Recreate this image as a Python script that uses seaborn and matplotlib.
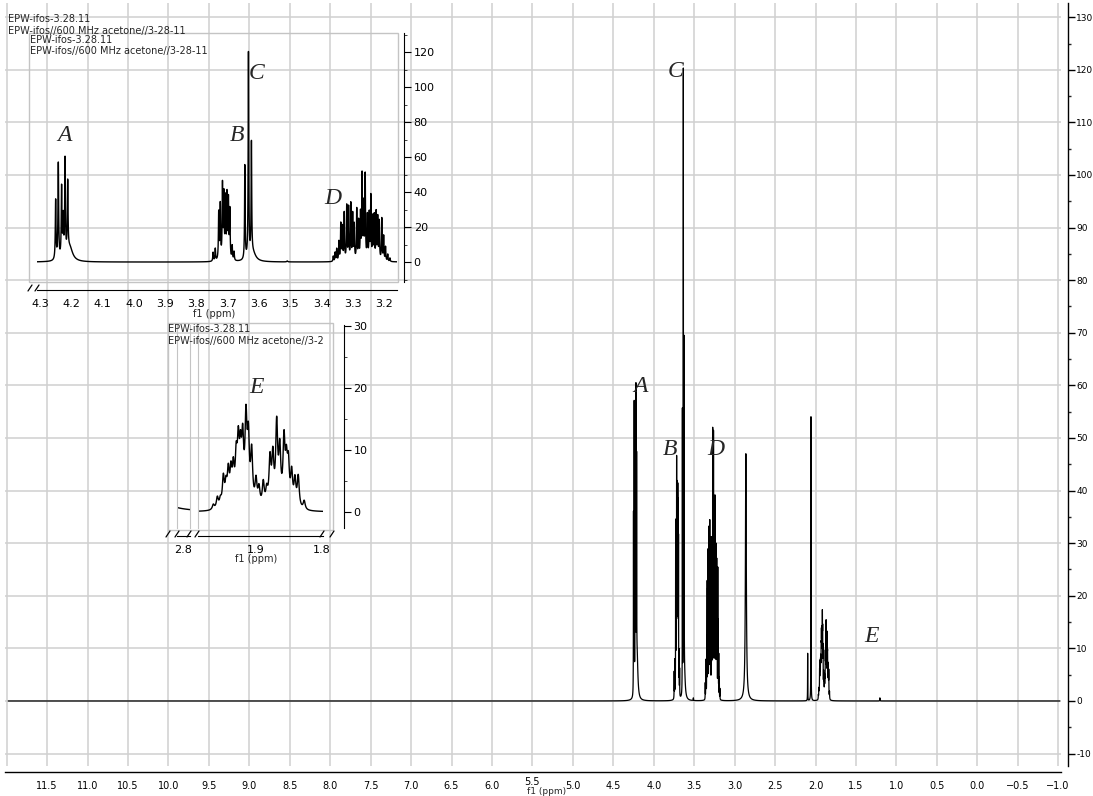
import numpy as np
import matplotlib
matplotlib.use("Agg")
import matplotlib.pyplot as plt
import seaborn as sns
from matplotlib.ticker import MultipleLocator, FixedLocator, FuncFormatter
from matplotlib.patches import Rectangle
from matplotlib.lines import Line2D
from matplotlib.transforms import ScaledTranslation

# ---------------- data (peak lists) ----------------
A_ppm = [4.2500, 4.2415, 4.2310, 4.2260, 4.2200, 4.2115]
A_h = [34, 55, 40, 22, 55, 40]
B_ppm = [3.7470, 3.7400, 3.7290, 3.7240, 3.7170, 3.7125, 3.7075, 3.7025, 3.6980, 3.6935, 3.6860, 3.6800]
B_h = [5, 7, 27, 31, 42, 36, 34, 36, 33, 28, 8, 5]
C_ppm = [3.6455, 3.6340, 3.6245]
C_h = [54, 117, 64]
D_ppm = [3.363, 3.357, 3.352, 3.345, 3.339, 3.334, 3.328, 3.320, 3.314, 3.307, 3.301,
         3.296, 3.288, 3.282, 3.276, 3.271, 3.266, 3.261, 3.254, 3.248, 3.243, 3.237,
         3.232, 3.226, 3.221, 3.216, 3.208, 3.202, 3.196, 3.189, 3.182]
D_h = [3, 5, 7, 11, 21, 19, 27, 31, 30, 32, 26, 20, 29, 22, 26, 48, 31, 48, 25, 26, 36, 24,
       25, 27, 24, 22, 24, 14, 8, 4, 2]
W_ppm = [2.861]
W_h = [47]
S_ppm = [2.097, 2.056]
S_h = [9, 54]
E_ppm = [1.9647, 1.9586, 1.9540, 1.9495, 1.9455, 1.9420, 1.9380, 1.9344, 1.9300, 1.9268,
         1.9235, 1.9202, 1.9152, 1.9116, 1.9066, 1.9000, 1.8955, 1.8890, 1.8838, 1.8788,
         1.8745, 1.8687, 1.8640, 1.8576, 1.8540, 1.8510, 1.8460, 1.8410, 1.8360, 1.8270]
E_h = [0.8, 1.8, 1.2, 4.7, 3.1, 5.2, 5.0, 5.4, 6.8, 8.8, 7.3, 9.4, 13.0, 9.9, 8.3, 4.0, 2.8,
       3.8, 2.4, 7.3, 7.6, 12.8, 8.6, 10.2, 6.2, 6.2, 5.2, 4.2, 5.0, 1.4]
M_ppm = [3.51, 1.204]
M_h = [0.5, 0.6]
BASE_ppm = [4.205, 3.620]
BASE_h = [8, 5]

# line half-widths (ppm) of each group
groups = [(A_ppm, A_h, 0.0013), (B_ppm, B_h, 0.0012), (C_ppm, C_h, 0.0011),
          (D_ppm, D_h, 0.0011), (W_ppm, W_h, 0.0065), (S_ppm, S_h, 0.0012),
          (E_ppm, E_h, 0.0018), (M_ppm, M_h, 0.002), (BASE_ppm, BASE_h, 0.011)]

main_xticks = np.arange(-1.0, 12.01, 0.5)
main_yticks = np.arange(-10, 131, 10)
ins1_xticks = [4.3, 4.2, 4.1, 4.0, 3.9, 3.8, 3.7, 3.6, 3.5, 3.4, 3.3, 3.2]
ins1_yticks = [0, 20, 40, 60, 80, 100, 120]
ins2_yticks = [0, 10, 20, 30]

title1 = "EPW-ifos-3.28.11"
title2 = "EPW-ifos//600 MHz acetone//3-28-11"
title2_cut = "EPW-ifos//600 MHz acetone//3-2"

# ---------------- spectrum ----------------
P = np.concatenate([np.array(g[0], float) for g in groups])
Hh = np.concatenate([np.array(g[1], float) for g in groups])
G = np.concatenate([np.full(len(g[0]), g[2]) for g in groups])

xs = np.arange(-1.02, 11.98, 0.0002)
ys = np.zeros_like(xs)
for i in range(0, len(xs), 5000):
    xx = xs[i:i + 5000, None]
    ys[i:i + 5000] = (Hh * G * G / (G * G + (xx - P) ** 2)).sum(axis=1)

# ---------------- figure ----------------
sns.set_style("white")
plt.rcParams["font.family"] = ["DejaVu Sans"]
plt.rcParams["axes.unicode_minus"] = True
plt.rcParams["path.simplify"] = False
plt.rcParams["agg.path.chunksize"] = 20000

W, H = 1093, 796
fig = plt.figure(figsize=(W / 100, H / 100), dpi=100)


def box(l, t, r, b):
    return [l / W, 1 - b / H, (r - l) / W, (b - t) / H]


def fx(px):
    return px / W


def fy(py):
    return 1 - py / H


GRID = "#d0d0d0"
FRAME = "#c4c4c4"
LBL = dict(family=["Liberation Serif", "DejaVu Serif"], style="italic", fontsize=17,
           ha="center", va="center")

# ---- main axes
ax = fig.add_axes(box(5, 3, 1061, 766))
ax.set_facecolor("white")
sns.lineplot(x=xs, y=ys, ax=ax, color="black", lw=0.9, estimator=None, sort=False, zorder=3)
ax.set_xlim(12.02, -1.035)
ax.set_ylim(-12.36, 132.7)
ax.set_xticks(main_xticks)
ax.xaxis.set_major_formatter(FuncFormatter(
    lambda v, _: "" if v > 11.9 else f"{v:.1f}".replace("-", "\u2212")))
ax.xaxis.set_minor_locator(FixedLocator(np.arange(-0.75, 11.9, 0.5)))
ax.set_yticks(main_yticks)
ax.yaxis.set_major_formatter(FuncFormatter(lambda v, _: f"{int(round(v))}"))
ax.yaxis.set_minor_locator(FixedLocator(np.arange(-5, 131, 10)))
ax.yaxis.tick_right()
ax.grid(True, which="major", color=GRID, lw=1.1, zorder=0)
for s in ["left", "top"]:
    ax.spines[s].set_visible(False)
ax.spines["right"].set_position(("outward", 5))
ax.spines["bottom"].set_position(("outward", 4))
for s in ["right", "bottom"]:
    ax.spines[s].set_color("black")
    ax.spines[s].set_linewidth(1.0)
ax.tick_params(axis="x", which="major", direction="out", length=5, width=1, labelsize=7, pad=2, colors="black")
ax.tick_params(axis="x", which="minor", direction="out", length=2.5, width=1, colors="black")
ax.tick_params(axis="y", which="major", direction="out", length=5, width=1, labelsize=6.5, pad=1,
               right=True, left=False, colors="black")
ax.tick_params(axis="y", which="minor", direction="out", length=2.5, width=1, right=True, left=False)
ax.set_xlabel("")
ax.set_ylabel("")
fig.text(fx(547), fy(792), "f1 (ppm)", fontsize=6.5, ha="center", va="center")

ax.text(3.725, 119.6, "C", **LBL)
ax.text(4.158, 59.7, "A", **LBL)
ax.text(3.799, 47.9, "B", **LBL)
ax.text(3.231, 47.9, "D", **LBL)
ax.text(1.302, 12.2, "E", **LBL)

# ---- inset 1 (4.3 - 3.16 ppm)
fig.add_artist(Rectangle((fx(29), fy(282)), (398 - 29) / W, (282 - 33) / H, transform=fig.transFigure,
                         fill=False, ec=FRAME, lw=1.0))
ax1 = fig.add_axes(box(37, 33, 397, 282))
ax1.set_facecolor("none")
m1 = (xs > 3.155) & (xs < 4.31)
sns.lineplot(x=xs[m1], y=ys[m1], ax=ax1, color="black", lw=1.0, estimator=None, sort=False)
ax1.set_xlim(4.3096, 3.1594)
ax1.set_ylim(-11.4, 130.9)
ax1.set_xticks(ins1_xticks)
ax1.xaxis.set_major_formatter(FuncFormatter(lambda v, _: f"{v:.1f}"))
ax1.xaxis.set_minor_locator(MultipleLocator(0.05))
ax1.set_yticks(ins1_yticks)
ax1.yaxis.set_minor_locator(FixedLocator([-10, 10, 30, 50, 70, 90, 110, 130]))
ax1.yaxis.tick_right()
for s in ["left", "top"]:
    ax1.spines[s].set_visible(False)
ax1.spines["right"].set_position(("outward", 5))
ax1.spines["bottom"].set_position(("outward", 6))
for s in ["right", "bottom"]:
    ax1.spines[s].set_color("black")
ax1.tick_params(axis="x", which="major", direction="out", length=5, labelsize=8, pad=1.5, colors="black")
ax1.tick_params(axis="x", which="minor", direction="out", length=2.5, colors="black")
ax1.tick_params(axis="y", which="major", direction="out", length=5, labelsize=8, pad=2,
                right=True, left=False, colors="black")
ax1.tick_params(axis="y", which="minor", direction="out", length=2.5, right=True, left=False)
ax1.set_xlabel("")
ax1.set_ylabel("")
fig.text(fx(214), fy(314), "f1 (ppm)", fontsize=7, ha="center", va="center")
ax1.text(4.223, 72.6, "A", **LBL)
ax1.text(3.671, 72.6, "B", **LBL)
ax1.text(3.607, 108, "C", **LBL)
ax1.text(3.364, 36.6, "D", **LBL)

# ---- inset 2 (broken axis: 2.8 | 1.99 - 1.80 ppm)
fig.add_artist(Rectangle((fx(168), fy(530)), (333 - 168) / W, (530 - 323) / H, transform=fig.transFigure,
                         fill=False, ec=FRAME, lw=1.0))
axL = fig.add_axes(box(177, 325, 190, 528))
axR = fig.add_axes(box(198, 325, 323, 528))
mL = (xs > 2.788) & (xs < 2.81)
mR = (xs > 1.798) & (xs < 1.989)
sns.lineplot(x=xs[mL], y=ys[mL], ax=axL, color="black", lw=1.0, estimator=None, sort=False)
sns.lineplot(x=xs[mR], y=ys[mR], ax=axR, color="black", lw=1.0, estimator=None, sort=False)
axL.set_xlim(2.809, 2.789)
axR.set_xlim(1.9879, 1.7985)
for a in (axL, axR):
    a.set_facecolor("none")
    a.set_ylim(-2.58, 30.16)
    a.spines["top"].set_visible(False)
    a.spines["bottom"].set_position(("outward", 6))
    a.spines["bottom"].set_color("black")
    a.spines["left"].set_color(FRAME)
    a.set_xlabel("")
    a.set_ylabel("")
    a.tick_params(axis="x", which="major", direction="out", length=5, labelsize=8, pad=1.5, colors="black")
    a.tick_params(axis="x", which="minor", direction="out", length=2.5, colors="black")
axL.spines["right"].set_color(FRAME)
axL.set_xticks([2.8])
axL.xaxis.set_major_formatter(FuncFormatter(lambda v, _: f"{v:.1f}"))
axL.set_yticks([])
axR.set_xticks([1.9, 1.8])
axR.xaxis.set_major_formatter(FuncFormatter(lambda v, _: f"{v:.1f}"))
axR.xaxis.set_minor_locator(FixedLocator([1.95, 1.85]))
axR.set_yticks(ins2_yticks)
axR.yaxis.set_minor_locator(FixedLocator([5, 15, 25]))
axR.yaxis.tick_right()
axR.spines["right"].set_position(("outward", 15))
axR.spines["right"].set_color("black")
axR.tick_params(axis="y", which="major", direction="out", length=5, labelsize=8, pad=2,
                right=True, left=False, colors="black")
axR.tick_params(axis="y", which="minor", direction="out", length=2.5, right=True, left=False)
fig.text(fx(256), fy(559), "f1 (ppm)", fontsize=7, ha="center", va="center")
axR.text(1.899, 20, "E", **LBL)

# ---- axis break marks
for bx, by in [(30, 288), (37, 288), (168, 534), (177, 534), (189, 534), (197, 534), (322, 534), (332, 534)]:
    fig.add_artist(Line2D([fx(bx - 2), fx(bx + 2)], [fy(by + 3), fy(by - 3)], transform=fig.transFigure,
                          color="black", lw=0.9))

# ---- header texts
fig.text(fx(8), fy(19), title1, fontsize=7, ha="left", va="center")
fig.text(fx(8), fy(31), title2, fontsize=7, ha="left", va="center")
fig.text(fx(30), fy(40), title1, fontsize=7, ha="left", va="center")
fig.text(fx(30), fy(51), title2, fontsize=7, ha="left", va="center")
fig.text(fx(168), fy(329), title1, fontsize=7, ha="left", va="center")
fig.text(fx(168), fy(341), title2_cut, fontsize=7, ha="left", va="center")

# the "5.5" label sits a little higher, above the axis title, as in the reference
fig.canvas.draw()
for t in ax.xaxis.get_major_ticks():
    if abs(t.get_loc() - 5.5) < 1e-6:
        t.label1.set_transform(t.label1.get_transform() + ScaledTranslation(0, 4 / 100, fig.dpi_scale_trans))

fig.savefig("out.png", dpi=100)
